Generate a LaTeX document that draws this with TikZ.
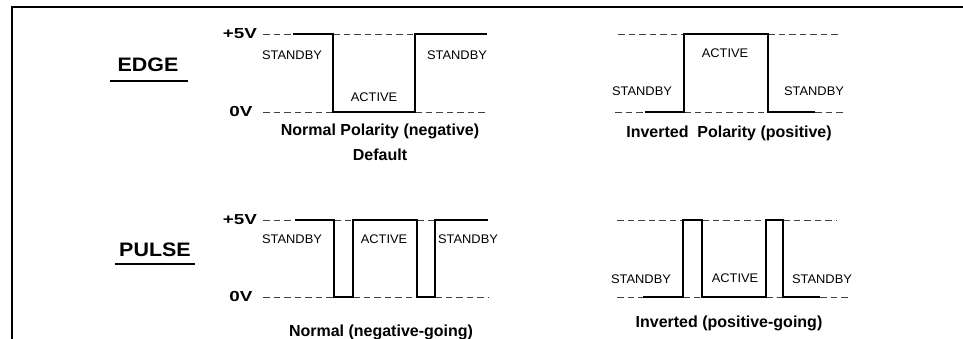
\documentclass[tikz,border=0pt]{standalone}
\usepackage{fontspec}
\setmainfont{Liberation Sans}
\begin{document}
\begin{tikzpicture}[x=1pt,y=-1pt,
  sig/.style={line width=1.4pt,line join=miter},
  lvl/.style={line width=0.8pt,black!75,dash pattern=on 6.5pt off 4pt},
  frm/.style={line width=2.8pt},
  uline/.style={line width=2pt},
  st/.style={inner sep=0pt,font=\fontsize{12.5}{13}\selectfont},
  capt/.style={inner sep=0pt,font=\fontsize{16}{17}\selectfont\bfseries},
  volt/.style={inner sep=0pt,font=\fontsize{14.5}{15}\selectfont\bfseries},
  ttl/.style={inner sep=0pt,font=\fontsize{19.5}{20}\selectfont\bfseries}]
\useasboundingbox (0,0) rectangle (963,339);
% frame
\draw[frm] (12,339) -- (12,7) -- (963,7);

% titles
\node[ttl] (edge) at (148,65) {\scalebox{1.1}[1]{EDGE}};
\draw[uline] (110,81) -- (188,81);
\node[ttl] (pulse) at (155,250) {\scalebox{1.1}[1]{PULSE}};
\draw[uline] (115,264) -- (195,264);

% ---------- Normal edge ----------
\node[volt] (v5a) at (240,34) {\scalebox{1.3}[1]{+5V}};
\node[volt] (v0a) at (241,112) {\scalebox{1.3}[1]{0V}};
\draw[lvl] (263,34) -- (293,34);
\draw[lvl] (333,34) -- (415,34);
\draw[lvl] (263,112) -- (333,112);
\draw[lvl] (415,112) -- (487,112);
\draw[sig] (293,34) -- (333,34) -- (333,112) -- (415,112) -- (415,34) -- (487,34);
\node[st] (sa1) at (292,55) {\scalebox{1.03}[1]{STANDBY}};
\node[st] (sa2) at (457,55) {\scalebox{1.03}[1]{STANDBY}};
\node[st] (aa) at (374,97) {\scalebox{1.03}[1]{ACTIVE}};
\node[capt] (ca) at (380,131) {Normal Polarity (negative)};
\node[capt] (cd) at (380,155) {Default};

% ---------- Inverted edge ----------
\draw[lvl] (618,34) -- (684,34);
\draw[lvl] (768,34) -- (838,34);
\draw[lvl] (615,112) -- (645,112);
\draw[lvl] (684,112) -- (768,112);
\draw[lvl] (815,112) -- (843,112);
\draw[sig] (645,112) -- (684,112) -- (684,34) -- (768,34) -- (768,112) -- (815,112);
\node[st] (sb1) at (642,91) {\scalebox{1.03}[1]{STANDBY}};
\node[st] (sb2) at (814,91) {\scalebox{1.03}[1]{STANDBY}};
\node[st] (ab) at (725,53) {\scalebox{1.03}[1]{ACTIVE}};
\node[capt] (cb) at (729,133) {Inverted\ \ Polarity (positive)};

% ---------- Normal pulse ----------
\node[volt] (v5c) at (240,220) {\scalebox{1.3}[1]{+5V}};
\node[volt] (v0c) at (241,297) {\scalebox{1.3}[1]{0V}};
\draw[lvl] (263,220) -- (295,220);
\draw[lvl] (334,220) -- (353,220);
\draw[lvl] (417,220) -- (435,220);
\draw[lvl] (263,297) -- (334,297);
\draw[lvl] (353,297) -- (417,297);
\draw[lvl] (435,297) -- (488,297);
\draw[sig] (295,220) -- (334,220) -- (334,297) -- (353,297) -- (353,220) -- (417,220)
  -- (417,297) -- (435,297) -- (435,220) -- (488,220);
\node[st] (sc1) at (292,239) {\scalebox{1.03}[1]{STANDBY}};
\node[st] (ac) at (384,239) {\scalebox{1.03}[1]{ACTIVE}};
\node[st] (sc2) at (468,239) {\scalebox{1.03}[1]{STANDBY}};
\node[capt] (cc) at (381,332) {Normal (negative-going)};

% ---------- Inverted pulse ----------
\draw[lvl] (617,220) -- (683,220);
\draw[lvl] (702,220) -- (766,220);
\draw[lvl] (783,220) -- (837,220);
\draw[lvl] (617,297) -- (643,297);
\draw[lvl] (683,297) -- (702,297);
\draw[lvl] (766,297) -- (783,297);
\draw[lvl] (820,297) -- (848,297);
\draw[sig] (643,297) -- (683,297) -- (683,220) -- (702,220) -- (702,297) -- (766,297)
  -- (766,220) -- (783,220) -- (783,297) -- (820,297);
\node[st] (sd1) at (641,279) {\scalebox{1.03}[1]{STANDBY}};
\node[st] (ad) at (735,278) {\scalebox{1.03}[1]{ACTIVE}};
\node[st] (sd2) at (822,279) {\scalebox{1.03}[1]{STANDBY}};
\node[capt] (cdd) at (729,323) {Inverted (positive-going)};
\end{tikzpicture}
\end{document}
